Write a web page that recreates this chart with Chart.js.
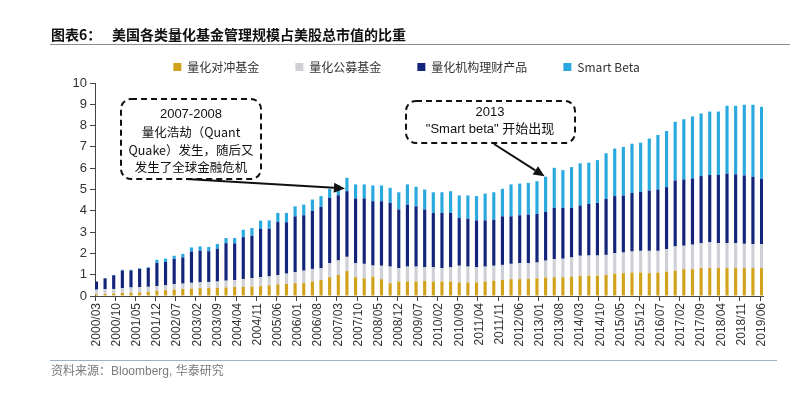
<!DOCTYPE html>
<html><head><meta charset="utf-8">
<script src="https://cdn.jsdelivr.net/npm/chart.js@4.4.1/dist/chart.umd.min.js"></script>
<style>html,body{margin:0;padding:0;background:#fff;}#wrap{width:800px;height:396px;position:relative;}</style>
</head><body><div id="wrap"><canvas id="c" width="800" height="396"></canvas></div>
<script>
const seriesNames = ['量化对冲基金', '量化公募基金', '量化机构理财产品', 'Smart Beta'];
// quarterly values, 2000/03 .. 2019/06 (% of US market cap)
const hedge = [.08,.10,.12,.14,.15,.17,.20,.25,.27,.30, .33,.35,.37,.38,.38,.40,.42,.43,.44,.46, .50,.55,.57,.60,.60,.68,.75,.88,.99,1.17, .88,.83,.91,.79,.60,.68,.68,.68,.71,.68, .68,.68,.64,.64,.64,.68,.72,.75,.79,.79, .80,.83,.87,.88,.88,.91,.94,.96,.96,.99, 1.04,1.07,1.10,1.10,1.07,1.10,1.15,1.19,1.26,1.26, 1.31,1.31,1.31,1.31,1.31,1.31,1.31,1.31];
const publicFunds = [.22,.22,.21,.23,.25,.25,.23,.22,.23,.25, .25,.27,.27,.28,.30,.32,.33,.37,.40,.42, .42,.43,.48,.52,.59,.59,.56,.66,.68,.67, .66,.68,.52,.63,.78,.63,.70,.70,.64,.67, .63,.67,.78,.74,.71,.70,.70,.71,.72,.75, .74,.74,.79,.85,.87,.90,.95,.94,.94,.94, .97,.97,.99,1.02,1.05,1.02,1.05,1.14,1.10,1.15, 1.17,1.21,1.17,1.17,1.17,1.14,1.13,1.13];
const institutional = [.38,.51,.64,.83,.80,.85,.89,1.08,1.10,1.19, 1.23,1.47,1.49,1.44,1.54,1.76,1.72,1.96,1.99,2.27, 2.24,2.49,2.41,2.62,2.60,2.73,2.87,3.07,3.06,3.08, 3.04,3.07,3.02,3.03,2.99,2.75,2.91,2.83,2.71,2.55, 2.59,2.55,2.24,2.25,2.20,2.17,2.16,2.28,2.23,2.25, 2.28,2.28,2.29,2.41,2.39,2.33,2.36,2.42,2.47,2.63, 2.68,2.68,2.75,2.77,2.83,2.88,2.91,3.09,3.11,3.11, 3.15,3.16,3.20,3.27,3.23,3.21,3.16,3.06];
const smartBeta = [0,0,.02,.03,.03,.03,.03,.15,.15,.15, .17,.19,.20,.20,.22,.24,.25,.35,.36,.39, .39,.43,.44,.47,.50,.53,.51,.42,.46,.63, .66,.66,.74,.74,.71,.81,.95,.92,.94,.97, .97,1.02,1.06,1.09,1.14,1.26,1.29,1.29,1.50,1.49, 1.49,1.54,1.65,1.88,1.77,1.91,1.98,1.94,2.01,2.14, 2.23,2.28,2.31,2.31,2.44,2.56,2.64,2.76,2.83,2.91, 2.94,2.98,2.98,3.18,3.22,3.32,3.38,3.38];
const tickLabels = ['2000/03','2000/10','2001/05','2001/12','2002/07','2003/02','2003/09','2004/04','2004/11','2005/06','2006/01','2006/08','2007/03','2007/10','2008/05','2008/12','2009/07','2010/02','2010/09','2011/04','2011/11','2012/06','2013/01','2013/08','2014/03','2014/10','2015/05','2015/12','2016/07','2017/02','2017/09','2018/04','2018/11','2019/06'];
const colors = ['#D3A21C', '#CFCFD6', '#13257A', '#2AA9E0'];

// monthly date axis (Excel-style), quarterly bars
const months = [];
for (let y = 2000, m = 3; y < 2019 || (y === 2019 && m <= 6); ) {
  months.push(y + '/' + String(m).padStart(2, '0'));
  m++; if (m > 12) { m = 1; y++; }
}
function toMonthly(arr) {
  const out = months.map(() => null);
  arr.forEach((v, q) => { out[q * 3] = v; });
  return out;
}
const seriesData = [hedge, publicFunds, institutional, smartBeta];

const CJK = '"Noto Sans CJK SC"';
const annPlugin = {
  id: 'ann',
  afterDraw(chart) {
    const ctx = chart.ctx;
    const xs = chart.scales.x, ys = chart.scales.y;
    ctx.save();
    // title
    ctx.fillStyle = '#111';
    ctx.font = 'bold 14px ' + CJK;
    ctx.textBaseline = 'middle';
    ctx.textAlign = 'left';
    ctx.fillText('图表6：', 51, 35);
    ctx.fillText('美国各类量化基金管理规模占美股总市值的比重', 112, 35);
    ctx.strokeStyle = '#8c8c8c'; ctx.lineWidth = 1;
    ctx.beginPath(); ctx.moveTo(50, 44.5); ctx.lineTo(790, 44.5); ctx.stroke();
    // source
    ctx.strokeStyle = '#9fb0c0';
    ctx.beginPath(); ctx.moveTo(50, 360.5); ctx.lineTo(777, 360.5); ctx.stroke();
    ctx.fillStyle = '#7a7a7a';
    ctx.font = '12px "Liberation Sans", ' + CJK;
    ctx.fillText('资料来源：Bloomberg, 华泰研究', 51, 372);

    function box(x, y, w, h) {
      ctx.setLineDash([6, 4]);
      ctx.lineWidth = 2; ctx.strokeStyle = '#111';
      ctx.beginPath();
      if (ctx.roundRect) ctx.roundRect(x, y, w, h, 10); else ctx.rect(x, y, w, h);
      ctx.stroke();
      ctx.setLineDash([]);
    }
    function arrow(x1, y1, x2, y2) {
      const a = Math.atan2(y2 - y1, x2 - x1), L = 11, W = 5;
      const bx = x2 - L * Math.cos(a), by = y2 - L * Math.sin(a);
      ctx.lineWidth = 2; ctx.strokeStyle = '#111'; ctx.fillStyle = '#111';
      ctx.beginPath(); ctx.moveTo(x1, y1); ctx.lineTo(bx, by); ctx.stroke();
      ctx.beginPath(); ctx.moveTo(x2, y2);
      ctx.lineTo(bx + W * Math.sin(a), by - W * Math.cos(a));
      ctx.lineTo(bx - W * Math.sin(a), by + W * Math.cos(a));
      ctx.closePath(); ctx.fill();
    }
    // box 1
    box(121, 99, 140, 80);
    ctx.fillStyle = '#111'; ctx.textAlign = 'center';
    ctx.font = '13px "Liberation Sans"';
    ctx.fillText('2007-2008', 191, 114);
    ctx.font = '12.5px ' + CJK;
    ctx.fillText('量化浩劫（Quant', 191, 132);
    ctx.fillText('Quake）发生，随后又', 191, 150);
    ctx.fillText('发生了全球金融危机', 191, 167);
    arrow(186, 179, xs.getPixelForValue(29 * 3) - 2, ys.getPixelForValue(5.05));
    // box 2
    box(406, 101, 169, 42);
    ctx.fillStyle = '#111';
    ctx.font = '13px "Liberation Sans"';
    ctx.fillText('2013', 490, 112);
    ctx.font = '13px "Liberation Sans", ' + CJK;
    ctx.fillText('"Smart beta" 开始出现', 490, 129);
    arrow(494, 144, xs.getPixelForValue(52 * 3) - 1, ys.getPixelForValue(5.62));
    ctx.restore();
  }
};

new Chart(document.getElementById('c'), {
  type: 'bar',
  data: {
    labels: months,
    datasets: seriesData.map((arr, i) => ({
      label: seriesNames[i],
      data: toMonthly(arr),
      backgroundColor: colors[i],
      borderWidth: 0,
      barPercentage: 1.1,
      categoryPercentage: 1.0,
      skipNull: true
    }))
  },
  options: {
    responsive: false,
    animation: false,
    layout: { padding: { left: 50, right: 37, top: 25, bottom: 40 } },
    plugins: {
      legend: {
        position: 'top',
        labels: { boxWidth: 8, boxHeight: 8, padding: 36, color: '#333', font: { family: CJK.replace(/"/g, ''), size: 12 } }
      },
      tooltip: { enabled: false }
    },
    scales: {
      x: {
        stacked: true,
        afterFit: (s) => { s.height = 60; },
        grid: {
          display: true, drawOnChartArea: false, drawTicks: true, tickLength: 5, offset: true,
          color: (c) => (c.tick && tickLabels.includes(months[c.tick.value])) ? '#444' : 'rgba(0,0,0,0)'
        },
        border: { display: true, color: '#444', width: 1 },
        ticks: {
          autoSkip: false, maxRotation: 90, minRotation: 90, padding: 2,
          color: '#333', font: { family: 'Liberation Sans', size: 12 },
          callback: function (v) { const l = this.getLabelForValue(v); return tickLabels.includes(l) ? l : ''; }
        }
      },
      y: {
        stacked: true, min: 0, max: 10,
        afterFit: (s) => { s.width = 45; },
        grid: { display: true, drawOnChartArea: false, drawTicks: true, tickLength: 5, color: '#444' },
        border: { display: true, color: '#444', width: 1 },
        ticks: { stepSize: 1, padding: 3, color: '#333', font: { family: 'Liberation Sans', size: 13 } }
      }
    }
  },
  plugins: [annPlugin]
});
</script></body></html>
